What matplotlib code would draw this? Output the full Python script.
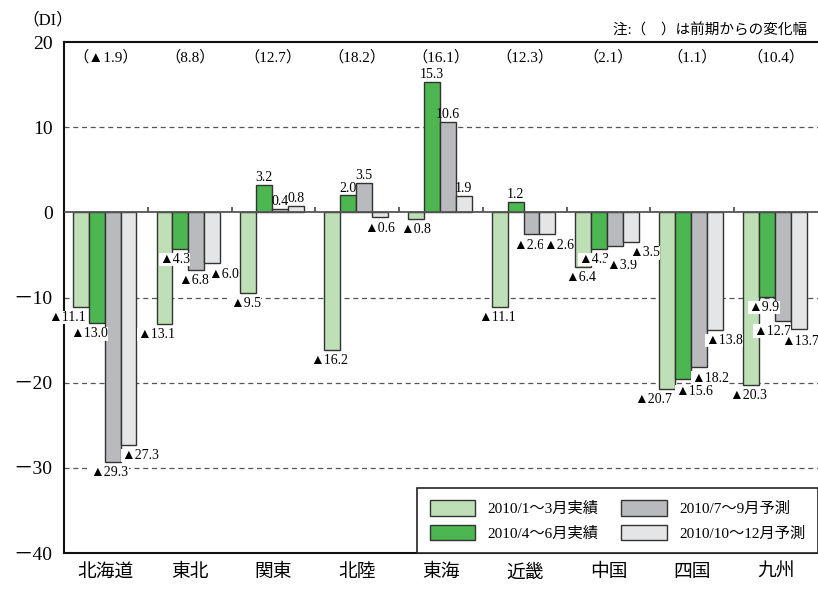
import matplotlib
matplotlib.use('agg')
import matplotlib.pyplot as plt
from matplotlib.patches import Patch

plt.rcParams['font.family'] = ['Liberation Serif', 'Noto Sans CJK JP', 'DejaVu Sans']

regions = ['北海道', '東北', '関東', '北陸', '東海', '近畿', '中国', '四国', '九州']
series_names = ['2010/1～3月実績', '2010/4～6月実績', '2010/7～9月予測', '2010/10～12月予測']
q1_actual = [-11.1, -13.1, -9.5, -16.2, -0.8, -11.1, -6.4, -20.7, -20.3]
q2_actual = [-13.0, -4.3, 3.2, 2.0, 15.3, 1.2, -4.3, -19.6, -9.9]
q3_forecast = [-29.3, -6.8, 0.4, 3.5, 10.6, -2.6, -3.9, -18.2, -12.7]
q4_forecast = [-27.3, -6.0, 0.8, -0.6, 1.9, -2.6, -3.5, -13.8, -13.7]
# printed labels (四国 4~6月 is printed as ▲15.6 in the source)
q2_labels = ['▲13.0', '▲4.3', '3.2', '2.0', '15.3', '1.2', '▲4.3', '▲15.6', '▲9.9']
changes = ['（▲1.9）', '（8.8）', '（12.7）', '（18.2）', '（16.1）', '（12.3）', '（2.1）', '（1.1）', '（10.4）']
colors = ['#bfe0b6', '#4cb650', '#b9babd', '#e4e5e7']

# label nudges in pixels (region, series) -> (dx, dy), to keep labels apart
nudge = {
    (0, 0): (-11, 0), (0, 1): (-5, 0), (0, 3): (15, 0),
    (1, 0): (-5, 0), (1, 1): (-3, 0), (1, 3): (14, 0),
    (3, 3): (3, 0), (4, 0): (3, 0), (5, 3): (14, 0),
    (6, 1): (-3, 0), (6, 2): (9, -9), (6, 3): (16, 0),
    (7, 0): (-11, 0), (7, 1): (14, -2), (7, 2): (14, 0), (7, 3): (12, 0),
    (8, 2): (-8, 0), (8, 3): (4, -2),
}


def fmt(v):
    return ('▲%.1f' % -v) if v < 0 else '%.1f' % v


series = [q1_actual, q2_actual, q3_forecast, q4_forecast]
labels = [[fmt(v) for v in q1_actual], q2_labels,
          [fmt(v) for v in q3_forecast], [fmt(v) for v in q4_forecast]]

fig = plt.figure(figsize=(8.18, 5.9), dpi=100)
ax = fig.add_axes([0.0782, 0.0627, 0.9218, 0.8661])

w = 0.19
px = 0.72  # points per pixel
x = list(range(len(regions)))
for i, vals in enumerate(series):
    xs = [c + (i - 1.5) * w - 0.015 for c in x]
    ax.bar(xs, vals, width=w, color=colors[i], edgecolor='#333333', linewidth=1.0, zorder=3)
    for j, (xi, v, t) in enumerate(zip(xs, vals, labels[i])):
        dx, dy = nudge.get((j, i), (0, 0))
        if v < 0:
            ax.annotate(t, (xi - w * 0.5, v), xytext=(5 * px + dx * px, -3 + dy * px),
                        textcoords='offset points', ha='center', va='top', fontsize=10,
                        zorder=4, bbox=dict(facecolor='white', edgecolor='none', pad=0.2))
        else:
            ax.annotate(t, (xi, v), xytext=(0, 0.5), textcoords='offset points',
                        ha='center', va='bottom', fontsize=10, zorder=4)

for c, t in zip(x, changes):
    ax.text(c, 18.2, t, ha='center', va='center', fontsize=11)

ax.set_xlim(-0.5, 8.5)
ax.set_ylim(-40, 20)
ax.set_yticks([20, 10, 0, -10, -20, -30, -40])
ax.set_yticklabels(['20', '10', '0', '－10', '－20', '－30', '－40'], fontsize=14)
ax.tick_params(axis='y', length=0, pad=8)
ax.set_xticks(x)
ax.set_xticklabels(regions, fontsize=13.5)
ax.tick_params(axis='x', length=0, pad=8)

for y in [10, -10, -20, -30]:
    ax.axhline(y, color='#555555', lw=0.9, ls=(0, (4, 3)), zorder=1)
ax.axhline(0, color='#555555', lw=1.3, zorder=4)
ax.vlines([b + 0.5 for b in x[:-1]], 0, 0.6, color='#555555', lw=1.3, zorder=4)

for s in ['left', 'top', 'bottom']:
    ax.spines[s].set_linewidth(1.5)
    ax.spines[s].set_color('#111111')
ax.spines['right'].set_visible(False)

fig.text(0.027, 0.965, '（DI）', fontsize=12, va='center')
fig.text(0.987, 0.948, '注:（　）は前期からの変化幅', fontsize=10.5, ha='right', va='center')

handles = [Patch(facecolor=c, edgecolor='#333333', linewidth=1.0) for c in colors]
leg = ax.legend(handles, series_names, ncol=2, loc='lower right', bbox_to_anchor=(1.0, 0.0),
                fontsize=11, frameon=True, fancybox=False, framealpha=1, edgecolor='#222222',
                handlelength=3.0, handleheight=1.2, columnspacing=1.5, borderpad=0.8,
                labelspacing=0.55, handletextpad=0.8, borderaxespad=0)
leg.get_frame().set_linewidth(1.2)
leg.set_zorder(5)

plt.savefig('out.png', dpi=100)
